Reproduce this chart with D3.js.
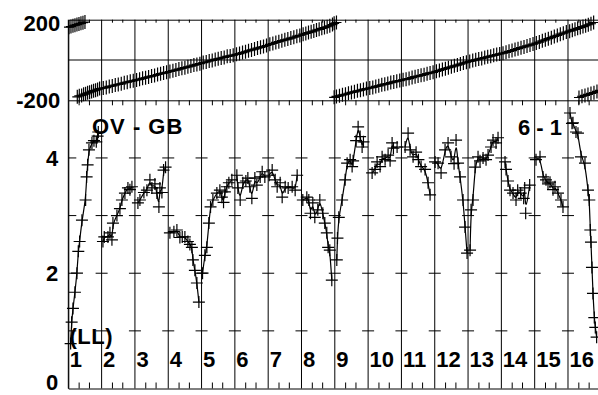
<!DOCTYPE html>
<html><head><meta charset="utf-8">
<script src="https://cdn.jsdelivr.net/npm/d3@7"></script>
<style>
body{margin:0;background:#fff;}
svg{display:block;}
text{font-family:"Liberation Sans",Arial,Helvetica,sans-serif;font-weight:bold;fill:#000;}
</style>
</head><body>
<svg id="c" width="598" height="395"></svg>
<script>
// ---------- data ----------
const scanLabels = ["1","2","3","4","5","6","7","8","9","10","11","12","13","14","15","16"];
const phaseTicks = [200, -200];
const ampTicks = [0, 2, 4];
const baselineLabel = "OV - GB";
const ifLabel = "6 - 1";
const polLabel = "(LL)";

// phase (deg) vs time (scan units)
const phaseA = [[0.02,163],[0.08,166],[0.14,170],[0.20,173],[0.26,176],[0.32,179],[0.38,182],[0.44,185],[0.50,188]];
const phaseB = [
 [0.27,-183],[0.33,-178],[0.40,-176],[0.46,-170],[0.52,-168],[0.58,-163],[0.64,-160],[0.70,-156],[0.76,-152],[0.82,-150],[0.88,-146],[0.94,-142],
 [1.05,-139],[1.14,-137],[1.23,-131],[1.32,-129],[1.41,-124],[1.50,-121],[1.59,-118],[1.68,-113],[1.77,-110],[1.86,-106],[1.95,-103],
 [2.05,-99],[2.14,-96],[2.23,-91],[2.32,-88],[2.41,-84],[2.50,-80],[2.59,-77],[2.68,-72],[2.77,-68],[2.86,-65],[2.95,-61],
 [3.05,-57],[3.14,-53],[3.23,-50],[3.32,-45],[3.41,-41],[3.50,-38],[3.59,-34],[3.68,-30],[3.77,-25],[3.86,-22],[3.95,-18],
 [4.05,-13],[4.14,-10],[4.23,-5],[4.32,-2],[4.41,3],[4.50,6],[4.59,10],[4.68,13],[4.77,18],[4.86,20],[4.95,24],
 [5.05,28],[5.14,32],[5.23,37],[5.32,41],[5.41,46],[5.50,50],[5.59,54],[5.68,59],[5.77,63],[5.86,67],[5.95,72],
 [6.05,78],[6.14,82],[6.23,87],[6.32,91],[6.41,96],[6.50,100],[6.59,104],[6.68,109],[6.77,113],[6.86,118],[6.95,122],
 [7.05,128],[7.13,132],[7.21,136],[7.29,140],[7.37,144],[7.45,149],[7.53,152],[7.61,157],[7.69,161],[7.77,165],[7.85,170],[7.93,176],[7.98,182],[8.05,186]
];
const phaseC = [
 [7.98,-185],[8.05,-181],[8.14,-178],[8.23,-173],[8.32,-170],[8.41,-165],[8.50,-161],[8.59,-158],[8.68,-153],[8.77,-150],[8.86,-146],[8.95,-142],
 [9.05,-139],[9.14,-136],[9.23,-131],[9.32,-128],[9.41,-123],[9.50,-120],[9.59,-117],[9.68,-112],[9.77,-109],[9.86,-105],[9.95,-102],
 [10.05,-98],[10.14,-95],[10.23,-92],[10.32,-87],[10.41,-83],[10.50,-80],[10.59,-76],[10.68,-73],[10.77,-68],[10.86,-64],[10.95,-61],
 [11.05,-56],[11.14,-52],[11.23,-47],[11.32,-43],[11.41,-38],[11.50,-34],[11.59,-29],[11.68,-25],[11.77,-20],[11.86,-15],[11.95,-11],
 [12.05,-7],[12.14,-3],[12.23,1],[12.32,5],[12.41,8],[12.50,12],[12.59,16],[12.68,19],[12.77,23],[12.86,27],[12.95,30],
 [13.05,34],[13.14,38],[13.23,43],[13.32,47],[13.41,52],[13.50,56],[13.59,61],[13.68,65],[13.77,70],[13.86,74],[13.95,79],
 [14.05,84],[14.14,89],[14.23,95],[14.32,100],[14.41,106],[14.50,111],[14.59,117],[14.68,122],[14.77,128],[14.86,133],[14.95,139],
 [15.05,143],[15.13,148],[15.21,152],[15.29,157],[15.37,161],[15.45,166],[15.53,170],[15.61,175],[15.69,180],[15.77,186]
];
const phaseD = [[15.33,-186],[15.42,-180],[15.51,-176],[15.60,-171],[15.69,-166],[15.78,-162],[15.87,-156],[15.96,-151]];

// amplitude vs time (scan units)
const ampPoints = [
 [0.07,0.78],[0.10,1.15],[0.14,1.39],[0.20,1.67],[0.26,2.00],[0.30,2.38],[0.34,2.55],[0.41,2.92],[0.52,3.27],[0.55,3.67],[0.58,3.88],[0.62,4.14],[0.71,4.26],[0.77,4.30],[0.84,4.28],[0.88,4.38],[0.90,4.45],
 [1.04,2.55],[1.08,2.63],[1.19,2.63],[1.25,2.70],[1.31,2.58],[1.34,2.87],[1.46,3.00],[1.55,3.12],[1.61,3.27],[1.70,3.39],[1.79,3.48],[1.85,3.45],[1.91,3.50],
 [2.09,3.22],[2.15,3.27],[2.27,3.40],[2.36,3.44],[2.45,3.62],[2.51,3.48],[2.60,3.55],[2.66,3.39],[2.72,3.15],[2.75,3.48],[2.81,3.40],[2.86,3.79],[2.92,3.84],
 [3.05,2.70],[3.17,2.72],[3.26,2.75],[3.35,2.62],[3.42,2.63],[3.50,2.63],[3.59,2.55],[3.65,2.50],[3.71,2.45],[3.74,2.23],[3.80,2.05],[3.86,1.83],[3.92,1.50],
 [4.03,2.00],[4.10,2.31],[4.16,2.45],[4.22,2.87],[4.27,3.15],[4.34,3.27],[4.46,3.39],[4.55,3.44],[4.61,3.32],[4.66,3.23],[4.70,3.41],[4.76,3.50],[4.82,3.57],[4.91,3.62],
 [5.06,3.70],[5.09,3.48],[5.16,3.27],[5.24,3.57],[5.33,3.60],[5.39,3.65],[5.45,3.50],[5.51,3.30],[5.60,3.65],[5.66,3.53],[5.76,3.67],[5.82,3.76],[5.90,3.67],
 [6.03,3.70],[6.12,3.79],[6.21,3.62],[6.27,3.50],[6.36,3.57],[6.42,3.32],[6.51,3.50],[6.60,3.48],[6.72,3.50],[6.81,3.44],[6.87,3.70],
 [7.04,3.27],[7.16,3.32],[7.22,3.27],[7.27,3.04],[7.34,3.22],[7.40,2.97],[7.49,3.10],[7.55,3.27],[7.64,3.04],[7.70,2.87],[7.76,2.70],[7.80,2.45],[7.85,2.40],[7.91,1.88],
 [8.06,2.23],[8.08,2.61],[8.12,2.97],[8.22,3.27],[8.31,3.62],[8.37,3.91],[8.46,3.97],[8.52,3.85],[8.55,3.95],[8.64,4.30],[8.70,4.54],[8.76,4.37],[8.82,4.19],[8.86,4.28],
 [9.12,3.74],[9.21,3.80],[9.27,3.93],[9.36,3.85],[9.42,4.02],[9.51,3.97],[9.60,4.05],[9.66,3.95],[9.72,4.26],[9.76,4.17],[9.87,4.19],
 [10.11,4.19],[10.20,4.43],[10.26,4.14],[10.35,4.02],[10.44,4.10],[10.51,3.97],[10.59,3.85],[10.71,3.80],[10.80,3.57],[10.86,3.36],
 [11.01,3.93],[11.10,3.91],[11.19,3.74],[11.31,4.14],[11.40,4.26],[11.49,4.02],[11.58,3.90],[11.64,4.31],[11.70,3.91],[11.76,3.67],[11.85,3.27],[11.91,2.80],[11.97,2.35],
 [12.06,2.40],[12.09,3.10],[12.15,3.27],[12.21,3.84],[12.30,4.02],[12.36,3.95],[12.45,4.00],[12.54,3.97],[12.60,4.05],[12.69,4.19],[12.75,4.31],[12.84,4.26],[12.90,4.35],
 [13.11,3.93],[13.14,3.80],[13.20,3.60],[13.26,3.44],[13.35,3.39],[13.44,3.27],[13.49,3.44],[13.58,3.39],[13.67,3.30],[13.70,3.48],[13.73,3.04],[13.85,3.53],
 [14.04,3.97],[14.16,4.02],[14.25,3.67],[14.34,3.62],[14.40,3.55],[14.46,3.58],[14.55,3.45],[14.61,3.50],[14.70,3.39],[14.79,3.27],[14.85,3.15],
 [15.06,4.78],[15.12,4.60],[15.15,4.61],[15.24,4.45],[15.30,4.43],[15.39,4.02],[15.51,3.91],[15.60,3.44],[15.64,3.27],[15.67,2.75],[15.69,2.54],[15.72,2.10],[15.75,1.65],[15.79,1.23],[15.82,1.06],[15.86,0.89]
];

// ---------- drawing ----------
const svg = d3.select("#c");
svg.append("rect").attr("width",598).attr("height",395).attr("fill","#fff");

const x = d3.scaleLinear().domain([0,16]).range([68.3,601.3]);
const yP = d3.scaleLinear().domain([-200,200]).range([100.3,19.7]);
const yA = d3.scaleLinear().domain([0,5]).range([388.5,100.3]);

const nScans = scanLabels.length;
const minorTicks = [];
for (let k=0;k<nScans;k++){ minorTicks.push(k+0.31, k+0.62); }

function styleAxis(g){
  g.selectAll("path.domain").attr("stroke","#000").attr("stroke-width",1);
  g.selectAll(".tick line").attr("stroke","#000").attr("stroke-width",1);
}
svg.append("g").attr("transform",`translate(0,${yP(200)})`)
  .call(d3.axisBottom(x).tickValues(minorTicks).tickSize(3).tickSizeOuter(0).tickFormat(""))
  .call(styleAxis);
svg.append("g").attr("transform",`translate(0,${yP(-200)})`)
  .call(d3.axisBottom(x).tickValues(minorTicks).tickSize(5).tickSizeOuter(0).tickFormat(""))
  .call(styleAxis);
svg.append("g").attr("transform",`translate(0,${yA(0)})`)
  .call(d3.axisTop(x).tickValues(minorTicks).tickSize(6).tickSizeOuter(0).tickFormat(""))
  .call(styleAxis);

svg.append("line").attr("x1",x(0)).attr("x2",x(16)).attr("y1",yP(0)).attr("y2",yP(0))
  .attr("stroke","#000").attr("stroke-width",1);

svg.append("g").selectAll("line").data(d3.range(0,nScans)).join("line")
  .attr("x1",d=>x(d)).attr("x2",d=>x(d)).attr("y1",yP(200)).attr("y2",yA(0))
  .attr("stroke","#000").attr("stroke-width",1);

const dashes = [];
for (let k=0;k<nScans;k++) for (let v=1;v<=4;v++) dashes.push([k,v]);
svg.append("g").selectAll("line").data(dashes).join("line")
  .attr("x1",d=>d[0]===0? x(0) : x(d[0])-6)
  .attr("x2",d=>d[0]===0? x(0)+8 : x(d[0])+6)
  .attr("y1",d=>yA(d[1])).attr("y2",d=>yA(d[1]))
  .attr("stroke","#000").attr("stroke-width",1);

// y axes (hyphen-minus labels as in the original)
const gP = svg.append("g").attr("transform",`translate(${x(0)},0)`)
  .call(d3.axisLeft(yP).tickValues(phaseTicks).tickSize(0).tickPadding(8).tickFormat(d=>String(d)));
gP.select("path.domain").attr("stroke","#000");
gP.selectAll("text").attr("font-size",22).attr("font-family","Liberation Sans, Arial, sans-serif").attr("font-weight","bold")
  .attr("dy",d=> d===200? "0.48em" : "0.32em");
const gA = svg.append("g").attr("transform",`translate(${x(0)},0)`)
  .call(d3.axisLeft(yA).tickValues(ampTicks).tickSize(0).tickPadding(10).tickFormat(d=>String(d)));
gA.select("path.domain").attr("stroke","#000");
gA.selectAll("text").attr("font-size",22).attr("font-family","Liberation Sans, Arial, sans-serif").attr("font-weight","bold")
  .attr("dy",d=> d===0? "0.06em" : "0.34em");

function cross(px,py,hw,hh){ return `M${px-hw},${py}H${px+hw}M${px},${py-hh}V${py+hh}`; }

// phase model lines and crosses
const phaseSeries = [phaseA, phaseB, phaseC, phaseD];
const pline = d3.line().x(d=>x(d[0])).y(d=>yP(d[1]));
svg.append("g").selectAll("path").data(phaseSeries).join("path")
  .attr("d",pline).attr("fill","none").attr("stroke","#000").attr("stroke-width",2);
svg.append("g").selectAll("path").data(phaseSeries.flat()).join("path")
  .attr("d",d=>cross(x(d[0]),yP(d[1]),5,7))
  .attr("fill","none").attr("stroke","#000").attr("stroke-width",1.2);

// amplitude model line per scan
const ampGroups = d3.groups(ampPoints, d=>Math.floor(d[0])).map(g=>g[1].slice().sort((a,b)=>a[0]-b[0]));
const aline = d3.line().x(d=>x(d[0])).y(d=>yA(d[1])).curve(d3.curveBasis);
svg.append("g").selectAll("path").data(ampGroups).join("path")
  .attr("d",aline).attr("fill","none").attr("stroke","#000").attr("stroke-width",1.2);
svg.append("g").selectAll("path").data(ampPoints).join("path")
  .attr("d",d=>cross(x(d[0]),yA(d[1]),6,6))
  .attr("fill","none").attr("stroke","#000").attr("stroke-width",1.2);

// scan numbers
svg.append("g").selectAll("text").data(scanLabels).join("text")
  .attr("x",(d,i)=>x(i)+1.5).attr("y",367.3).attr("font-size",22).text(d=>d);

// annotations
svg.append("text").attr("x",92).attr("y",133.5).attr("font-size",22).attr("letter-spacing",1).text(baselineLabel);
svg.append("text").attr("x",518).attr("y",134.5).attr("font-size",22).text(ifLabel);
svg.append("text").attr("x",69.5).attr("y",344).attr("font-size",22).attr("letter-spacing",0.5).text(polLabel);
</script>
</body></html>
